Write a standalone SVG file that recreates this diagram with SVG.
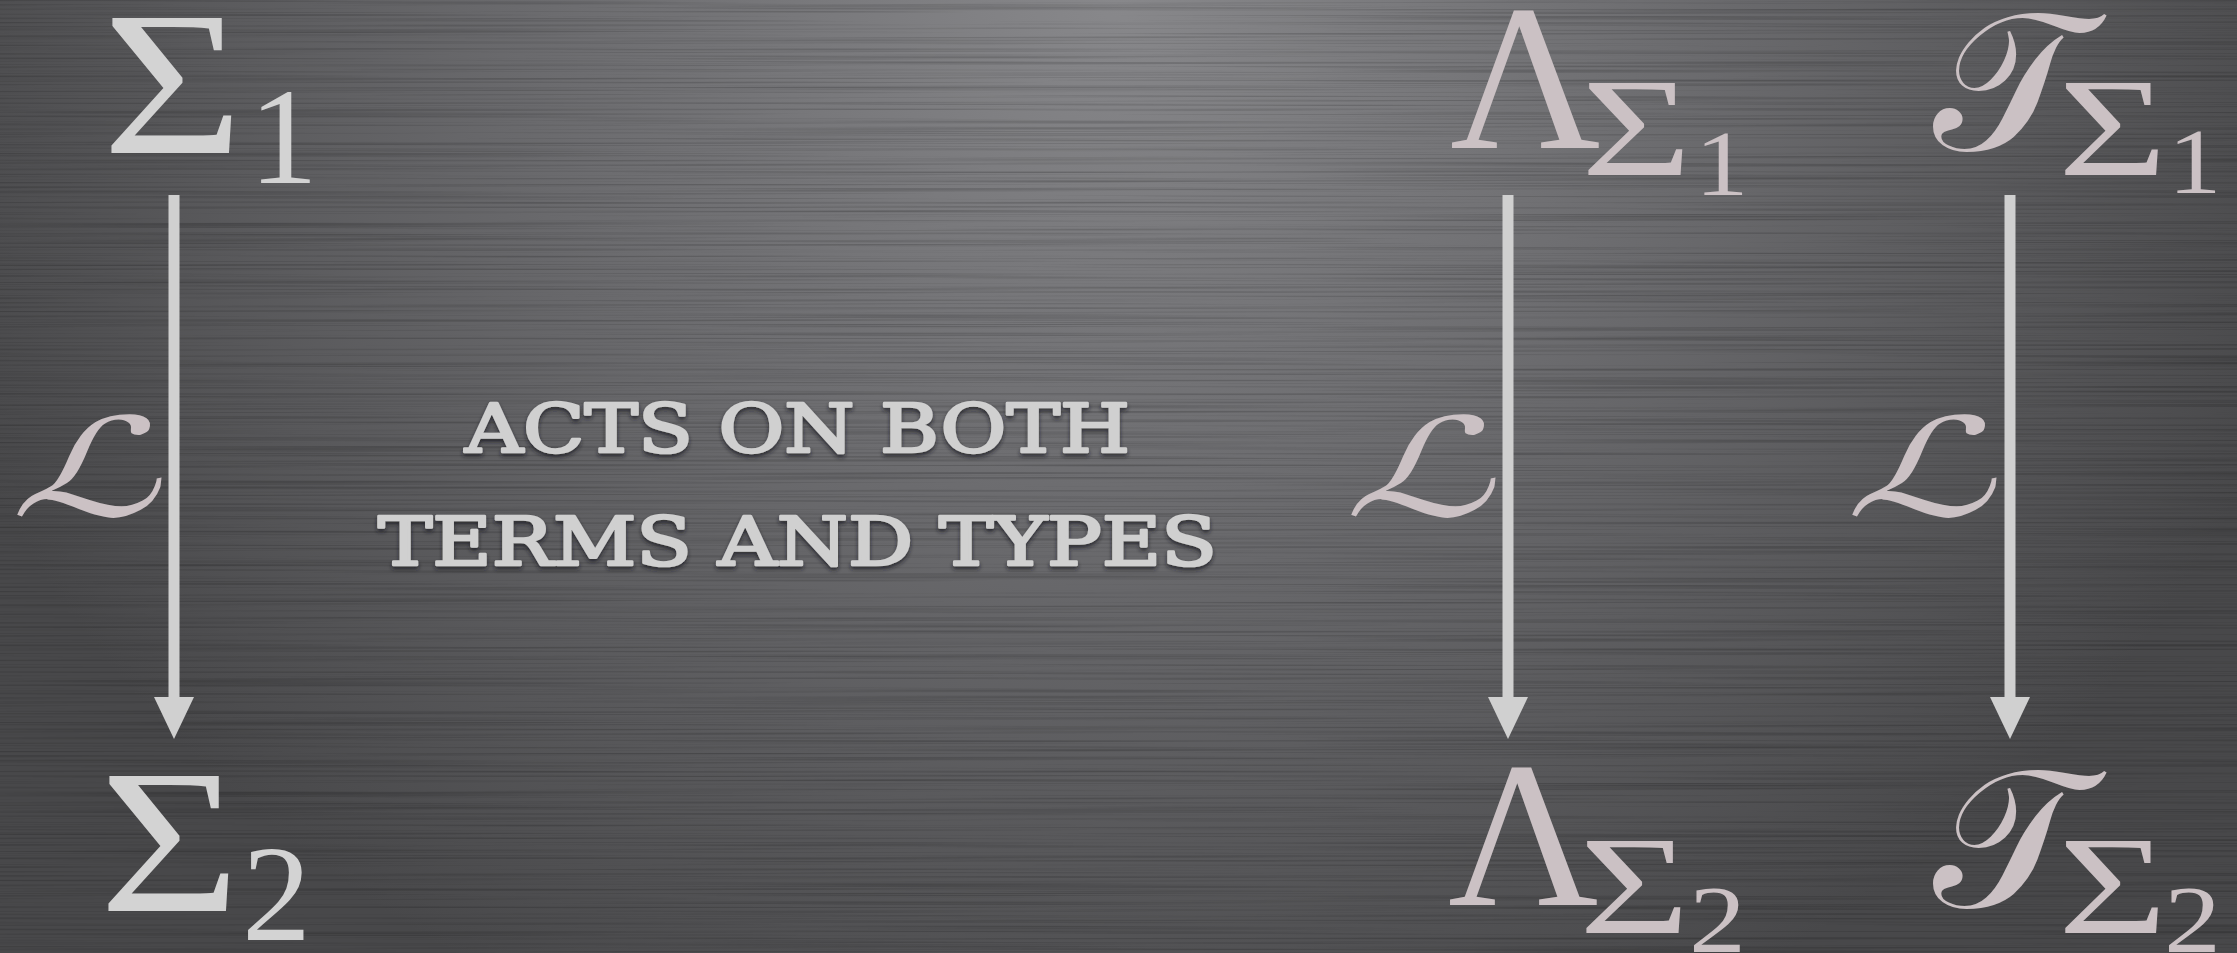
<svg xmlns="http://www.w3.org/2000/svg" width="2237" height="953" viewBox="0 0 2237 953">
<defs>
<radialGradient id="bg" gradientUnits="userSpaceOnUse" cx="1118" cy="0" r="1250" gradientTransform="translate(1118 0) scale(1 0.9) translate(-1118 0)">
<stop offset="0" stop-color="#88888b"/>
<stop offset="0.45" stop-color="#6c6c6f"/>
<stop offset="1" stop-color="#48484a"/>
</radialGradient>
<filter id="brush" x="0" y="0" width="100%" height="100%">
<feTurbulence type="fractalNoise" baseFrequency="0.0015 0.45" numOctaves="3" seed="7" result="n"/>
<feColorMatrix in="n" type="matrix" values="0 0 0 0 0  0 0 0 0 0  0 0 0 0 0  0 0 0 -1.4 0.75"/>
</filter>
<filter id="shadow" x="-5%" y="-30%" width="110%" height="170%">
<feDropShadow dx="0" dy="3" stdDeviation="2" flood-color="#1e1e20" flood-opacity="0.75"/>
</filter>
<marker id="ah" viewBox="0 0 42 40" refX="0" refY="20" markerUnits="userSpaceOnUse" markerWidth="42" markerHeight="40" orient="auto">
<path d="M0 0 L42 20 L0 40 Z" fill="#d0d0d0"/>
</marker>
<style>
.math{font-family:"Liberation Serif","DejaVu Serif",serif;fill:#d3d3d3}
.pk{fill:#cbc1c4}
.scr{font-family:"DejaVu Serif","DejaVu Sans","Noto Sans",serif;font-style:normal;fill:#cbc1c4}
.cap{font-family:"DejaVu Serif","Liberation Serif",serif;font-size:67px;fill:#d0d0d0;stroke:#d0d0d0;stroke-width:2.6;stroke-linejoin:round}
.arr{stroke:#d0d0d0;stroke-width:11;fill:none}
</style>
</defs>
<rect width="2237" height="953" fill="url(#bg)"/>
<rect width="2237" height="953" filter="url(#brush)" opacity="0.35"/>

<g id="connectors">
<line class="arr" x1="174" y1="195" x2="174" y2="697" marker-end="url(#ah)"/>
<line class="arr" x1="1508" y1="195" x2="1508" y2="697" marker-end="url(#ah)"/>
<line class="arr" x1="2010" y1="195" x2="2010" y2="697" marker-end="url(#ah)"/>
<text class="scr" transform="translate(10 516) scale(1.5 1) skewX(-14)" font-size="137">ℒ</text>
<text class="scr" transform="translate(1344 516) scale(1.5 1) skewX(-14)" font-size="137">ℒ</text>
<text class="scr" transform="translate(1845 516) scale(1.5 1) skewX(-14)" font-size="137">ℒ</text>
</g>

<g id="sigma1">
<text class="math" transform="translate(102 153) scale(1.185 1)" font-size="205">Σ</text>
<text class="math" x="249" y="183" font-size="138">1</text>
</g>
<g id="sigma2">
<text class="math" transform="translate(99 911) scale(1.185 1)" font-size="205">Σ</text>
<text class="math" x="242" y="940" font-size="138">2</text>
</g>
<g id="lambda1">
<text class="math pk" x="1450" y="148" font-size="208">Λ</text>
<text class="math pk" transform="translate(1581 175) scale(1.37 1)" font-size="139">Σ</text>
<text class="math pk" transform="translate(1695 195) scale(1.15 1)" font-size="93">1</text>
</g>
<g id="lambda2">
<text class="math pk" x="1448" y="905" font-size="208">Λ</text>
<text class="math pk" transform="translate(1579 933) scale(1.37 1)" font-size="139">Σ</text>
<text class="math pk" transform="translate(1689 952) scale(1.2 1)" font-size="95">2</text>
</g>
<g id="types1">
<text class="scr" x="1933" y="150" font-size="197">𝒯</text>
<text class="math pk" transform="translate(2058 175) scale(1.35 1)" font-size="139">Σ</text>
<text class="math pk" transform="translate(2168 193) scale(1.15 1)" font-size="93">1</text>
</g>
<g id="types2">
<text class="scr" x="1933" y="907" font-size="197">𝒯</text>
<text class="math pk" transform="translate(2058 933) scale(1.35 1)" font-size="139">Σ</text>
<text class="math pk" transform="translate(2164 952) scale(1.2 1)" font-size="95">2</text>
</g>
<g id="caption" filter="url(#shadow)">
<text class="cap" x="465" y="452" textLength="665" lengthAdjust="spacingAndGlyphs">ACTS ON BOTH</text>
<text class="cap" x="378" y="565" textLength="839" lengthAdjust="spacingAndGlyphs">TERMS AND TYPES</text>
</g>
</svg>
